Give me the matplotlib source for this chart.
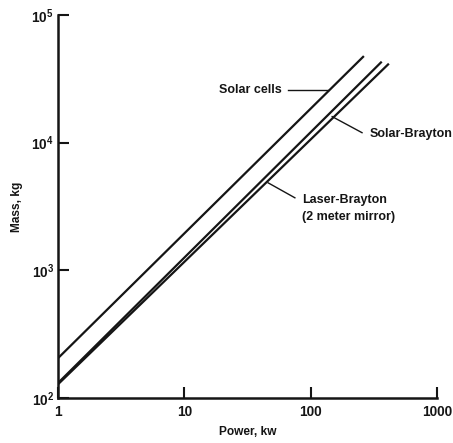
import matplotlib
matplotlib.use("Agg")
import matplotlib.pyplot as plt

plt.rcParams['font.family'] = ['Liberation Sans', 'DejaVu Sans']
plt.rcParams['font.weight'] = 'bold'
plt.rcParams['axes.labelweight'] = 'bold'
plt.rcParams['mathtext.fontset'] = 'custom'
plt.rcParams['mathtext.rm'] = 'Liberation Sans:bold'
plt.rcParams['mathtext.it'] = 'Liberation Sans:bold'
plt.rcParams['mathtext.bf'] = 'Liberation Sans:bold'

# end points of the straight log-log lines
solar_cells_kw = [1, 260]
solar_cells_kg = [205, 47000]
solar_brayton_kw = [1, 360]
solar_brayton_kg = [131, 42500]
laser_brayton_kw = [1, 410]
laser_brayton_kg = [128, 41000]

xticks = [1, 10, 100, 1000]
xticklabels = ['1', '10', '100', '1000']
yticks = [1e2, 1e3, 1e4, 1e5]
yticklabels = [r'$10^2$', r'$10^3$', r'$10^4$', r'$10^5$']

ink = '#151515'

fig = plt.figure(figsize=(4.53, 4.43), dpi=100)
ax = fig.add_axes([58/453, 1 - 398/443, (437 - 58)/453, (398 - 15)/443])

ax.plot(solar_cells_kw, solar_cells_kg, color=ink, lw=1.6)
ax.plot(solar_brayton_kw, solar_brayton_kg, color=ink, lw=1.6)
ax.plot(laser_brayton_kw, laser_brayton_kg, color=ink, lw=1.6)

ax.set_xscale('log')
ax.set_yscale('log')
ax.set_xlim(1, 1000)
ax.set_ylim(100, 1e5)
ax.set_xticks(xticks)
ax.set_xticklabels(xticklabels)
ax.set_yticks(yticks)
ax.set_yticklabels(yticklabels)
ax.minorticks_off()
ax.tick_params(direction='in', length=8, width=1.5, color=ink, labelsize=9.8,
               labelcolor=ink, pad=3)
ax.tick_params(axis='x', pad=5)
for s in ['top', 'right']:
    ax.spines[s].set_visible(False)
for s in ['left', 'bottom']:
    ax.spines[s].set_linewidth(1.8)
    ax.spines[s].set_color(ink)
ax.patch.set_visible(False)

ax.set_xlabel('Power, kw', fontsize=8.6, color=ink, labelpad=5)
ax.set_ylabel('Mass, kg', fontsize=8.6, color=ink, labelpad=6)

# curve labels with leader lines
ax.text(59, 26000, 'Solar cells', fontsize=9, color=ink, ha='right', va='center')
ax.plot([66, 137], [26000, 26000], color=ink, lw=1.0)
ax.text(295, 11600, 'Solar-Brayton', fontsize=9, color=ink, ha='left', va='center')
ax.plot([148, 255], [16000, 11970], color=ink, lw=1.0)
ax.text(85, 3570, 'Laser-Brayton', fontsize=9, color=ink, ha='left', va='center')
ax.text(85, 2620, '(2 meter mirror)', fontsize=9, color=ink, ha='left', va='center')
ax.plot([46, 75], [4850, 3700], color=ink, lw=1.0)

fig.savefig('out.png', dpi=100)
